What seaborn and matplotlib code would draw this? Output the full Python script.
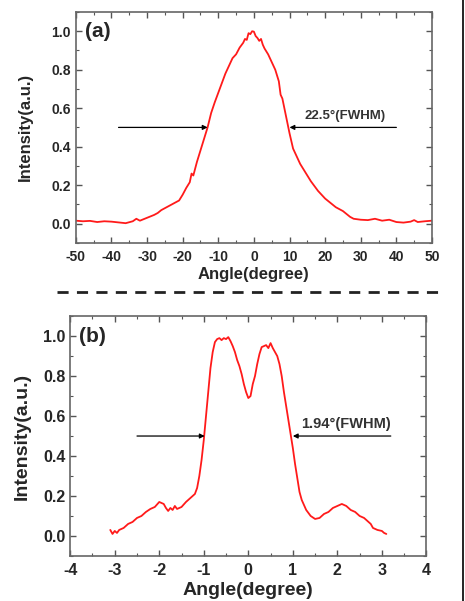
import matplotlib
matplotlib.use("Agg")
import matplotlib.pyplot as plt
import numpy as np
import pandas as pd
import seaborn as sns
from matplotlib.lines import Line2D
from matplotlib.ticker import MultipleLocator

# panel (a): far-field angular profile
angle_a = [-50, -48, -46, -44, -42, -40, -38, -36, -34, -33, -32, -30, -28, -27, -26, -24,
           -22, -21, -20, -19, -18, -17.5, -17, -16, -15, -14, -13, -12, -11, -10, -9, -8,
           -7, -6, -5, -4, -3, -2.5, -2, -1.5, -1, -0.5, 0, 0.5, 1, 1.5, 2, 2.5, 3, 4,
           5, 6, 7, 7.5, 8, 9, 10, 11, 12, 13, 14, 15, 16, 17, 18, 19, 20, 21, 22, 23,
           24, 25, 26, 27, 28, 30, 32, 34, 36, 38, 40, 42, 44, 45, 46, 48, 50]
inten_a = [0.015, 0.012, 0.014, 0.008, 0.012, 0.010, 0.006, 0.002, 0.012, 0.025, 0.015, 0.030,
           0.045, 0.055, 0.070, 0.090, 0.110, 0.120, 0.150, 0.185, 0.215, 0.260, 0.250, 0.320,
           0.380, 0.440, 0.500, 0.575, 0.630, 0.680, 0.730, 0.780, 0.820, 0.860, 0.880, 0.915,
           0.940, 0.960, 0.955, 0.990, 0.985, 1.000, 0.998, 0.975, 0.965, 0.950, 0.960, 0.930,
           0.910, 0.880, 0.840, 0.800, 0.740, 0.670, 0.650, 0.560, 0.470, 0.390, 0.350, 0.310,
           0.280, 0.250, 0.220, 0.195, 0.170, 0.150, 0.130, 0.115, 0.100, 0.085, 0.075, 0.065,
           0.050, 0.035, 0.025, 0.020, 0.018, 0.025, 0.015, 0.020, 0.008, 0.005, 0.010, 0.018,
           0.008, 0.012, 0.015]

# panel (b): angular profile after the lens
angle_b = [-3.10, -3.05, -3.00, -2.95, -2.90, -2.80, -2.70, -2.60, -2.50, -2.40, -2.30, -2.20,
           -2.10, -2.00, -1.95, -1.90, -1.85, -1.80, -1.75, -1.70, -1.65, -1.60, -1.50, -1.40,
           -1.30, -1.20, -1.15, -1.10, -1.05, -1.00, -0.95, -0.90, -0.85, -0.80, -0.75, -0.70,
           -0.65, -0.60, -0.55, -0.50, -0.45, -0.40, -0.35, -0.30, -0.25, -0.20, -0.15, -0.10,
           -0.05, 0.00, 0.05, 0.10, 0.15, 0.20, 0.25, 0.30, 0.35, 0.40, 0.45, 0.50, 0.55, 0.60,
           0.65, 0.70, 0.75, 0.80, 0.85, 0.90, 0.95, 1.00, 1.05, 1.10, 1.15, 1.20, 1.30, 1.40,
           1.50, 1.60, 1.70, 1.80, 1.90, 2.00, 2.10, 2.15, 2.20, 2.30, 2.40, 2.50, 2.60, 2.70,
           2.75, 2.80, 2.90, 3.00, 3.05, 3.10]
inten_b = [0.030, 0.010, 0.025, 0.015, 0.030, 0.040, 0.060, 0.070, 0.090, 0.100, 0.120, 0.135,
           0.145, 0.170, 0.165, 0.160, 0.140, 0.125, 0.140, 0.130, 0.150, 0.135, 0.145, 0.170,
           0.190, 0.210, 0.240, 0.300, 0.380, 0.480, 0.600, 0.720, 0.840, 0.920, 0.970, 0.985,
           0.990, 0.980, 0.990, 0.985, 0.995, 0.975, 0.950, 0.920, 0.880, 0.850, 0.810, 0.760,
           0.720, 0.690, 0.700, 0.760, 0.800, 0.860, 0.910, 0.945, 0.950, 0.955, 0.940, 0.965,
           0.940, 0.920, 0.900, 0.860, 0.800, 0.720, 0.650, 0.580, 0.510, 0.440, 0.360, 0.290,
           0.220, 0.180, 0.130, 0.100, 0.085, 0.090, 0.110, 0.120, 0.140, 0.150, 0.160, 0.155,
           0.150, 0.130, 0.120, 0.100, 0.090, 0.070, 0.060, 0.040, 0.030, 0.025, 0.015, 0.010]

panel_labels = ["(a)", "(b)"]
fwhm_texts = ["22.5°(FWHM)", "1.94°(FWHM)"]

sns.set_style("ticks")
plt.rcParams["font.family"] = ["Liberation Sans", "DejaVu Sans"]
plt.rcParams["font.weight"] = "bold"
plt.rcParams["axes.unicode_minus"] = False

fig = plt.figure(figsize=(4.65, 6.01), dpi=100)
ax_a = fig.add_axes([0.163, 0.596, 0.766, 0.384])
ax_b = fig.add_axes([0.151, 0.075, 0.766, 0.399])

df_a = pd.DataFrame({"angle": angle_a, "intensity": inten_a})
df_b = pd.DataFrame({"angle": angle_b, "intensity": inten_b})

sns.lineplot(data=df_a, x="angle", y="intensity", ax=ax_a, color="#ff1a1a", lw=1.3)
sns.lineplot(data=df_b, x="angle", y="intensity", ax=ax_b, color="#ff1a1a", lw=1.3)

# ax, xlim, major, minor, label, fwhm text, left arrow, right arrow, text pos,
# tick size, axis-label size, ylabel x, xlabel pad
setups = [
    (ax_a, (-50, 50), 10, 5, panel_labels[0], fwhm_texts[0],
     (-38, -13), (40, 10), (14.2, 0.56), 10, 12, -0.12, 2),
    (ax_b, (-4, 4), 1, 0.5, panel_labels[1], fwhm_texts[1],
     (-2.5, -0.98), (3.2, 1.0), (1.18, 0.56), 11.5, 14, -0.11, 3),
]
for ax, xl, xmaj, xmin, lab, ftxt, arr_l, arr_r, tpos, tsz, lsz, ylx, xpad in setups:
    ax.set_xlim(*xl)
    ax.set_ylim(-0.1, 1.1)
    ax.xaxis.set_major_locator(MultipleLocator(xmaj))
    ax.xaxis.set_minor_locator(MultipleLocator(xmin))
    ax.yaxis.set_minor_locator(MultipleLocator(0.1))
    ax.set_yticks([0.0, 0.2, 0.4, 0.6, 0.8, 1.0])
    ax.tick_params(which="both", direction="in", top=True, right=True,
                   labelsize=tsz, color="#555555")
    ax.tick_params(which="major", length=4, width=1)
    ax.tick_params(which="minor", length=2.5, width=0.8)
    ax.tick_params(axis="x", which="major", pad=5)
    for lbl in ax.get_xticklabels() + ax.get_yticklabels():
        lbl.set_fontweight("bold")
    for sp in ax.spines.values():
        sp.set_color("#666666")
        sp.set_linewidth(1.2)
    ax.set_xlabel("Angle(degree)", fontsize=lsz, fontweight="bold", labelpad=xpad)
    ax.set_ylabel("Intensity(a.u.)", fontsize=lsz, fontweight="bold")
    ax.yaxis.set_label_coords(ylx, 0.5)
    ax.text(0.025, 0.955, lab, transform=ax.transAxes, fontsize=15,
            fontweight="bold", va="top", ha="left")
    ax.annotate("", xy=(arr_l[1], 0.5), xytext=(arr_l[0], 0.5),
                arrowprops=dict(arrowstyle="-|>", color="black", lw=0.9,
                                mutation_scale=7, shrinkA=0, shrinkB=0))
    ax.annotate("", xy=(arr_r[1], 0.5), xytext=(arr_r[0], 0.5),
                arrowprops=dict(arrowstyle="-|>", color="black", lw=0.9,
                                mutation_scale=7, shrinkA=0, shrinkB=0))
    ax.text(tpos[0], tpos[1], ftxt, fontsize=9.5 if ax is ax_a else 10.5,
            fontweight="bold", color="#333333", ha="left", va="center")

# dashed separator between the panels and the right border
fig.add_artist(Line2D([0.123, 0.953], [0.514, 0.514], color="#222222", lw=2,
                      ls=(0, (4, 3)), transform=fig.transFigure))
fig.add_artist(Line2D([0.995, 0.995], [0.0, 1.0], color="black", lw=1.2,
                      transform=fig.transFigure))

fig.savefig("out.png", dpi=100)
